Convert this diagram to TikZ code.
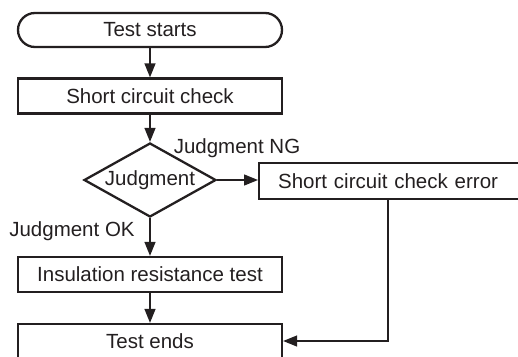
\documentclass[tikz,border=0pt]{standalone}
\usepackage{fontspec}
\setmainfont{Liberation Sans}
\usetikzlibrary{shapes.geometric,arrows.meta}
\definecolor{ink}{HTML}{231F20}
\tikzset{
  box/.style={draw=ink, line width=2.3pt, minimum width=264pt, inner sep=0pt, text=ink},
  conn/.style={draw=ink, line width=1.3pt, -{Triangle[length=14pt,width=11pt]}},
  lbl/.style={text=ink, inner sep=0pt}
}
\begin{document}
\begin{tikzpicture}[x=1pt,y=-1pt,font=\fontsize{20.5}{24}\selectfont]
\useasboundingbox (0,0) rectangle (518,356);
\clip (0,0) rectangle (518,356);
\node[box, minimum height=34pt, rounded corners=17pt] (start) at (150,30) {Test starts};
\node[box, minimum height=35pt] (scc) at (150,96) {Short circuit check};
\node[draw=ink, line width=2.3pt, diamond, aspect=1.78, minimum width=132pt, minimum height=74pt, inner sep=0pt, text=ink] (judg) at (150,180) {Judgment};
\node[draw=ink, line width=2.3pt, anchor=west, minimum height=36pt, inner xsep=19pt, inner ysep=0pt, text width=232pt, align=left, text=ink] (err) at (258,181) {Short circuit check error};
\node[box, minimum height=35pt] (ins) at (150,274.5) {Insulation resistance test};
\node[box, minimum height=34pt] (end) at (150,341) {Test ends};
\node[lbl] (ng) at (237,148) {Judgment NG};
\node[lbl] (ok) at (72,231) {Judgment OK};
\coordinate (turn) at (388,341);
\draw[conn] (start) -- (scc);
\draw[conn] (scc) -- (judg);
\draw[conn] (judg.east) -- (err.west |- judg.east);
\draw[conn] (judg) -- (ins);
\draw[conn] (ins) -- (end);
\draw[conn] (err.south -| turn) |- (end.east);
\end{tikzpicture}
\end{document}
